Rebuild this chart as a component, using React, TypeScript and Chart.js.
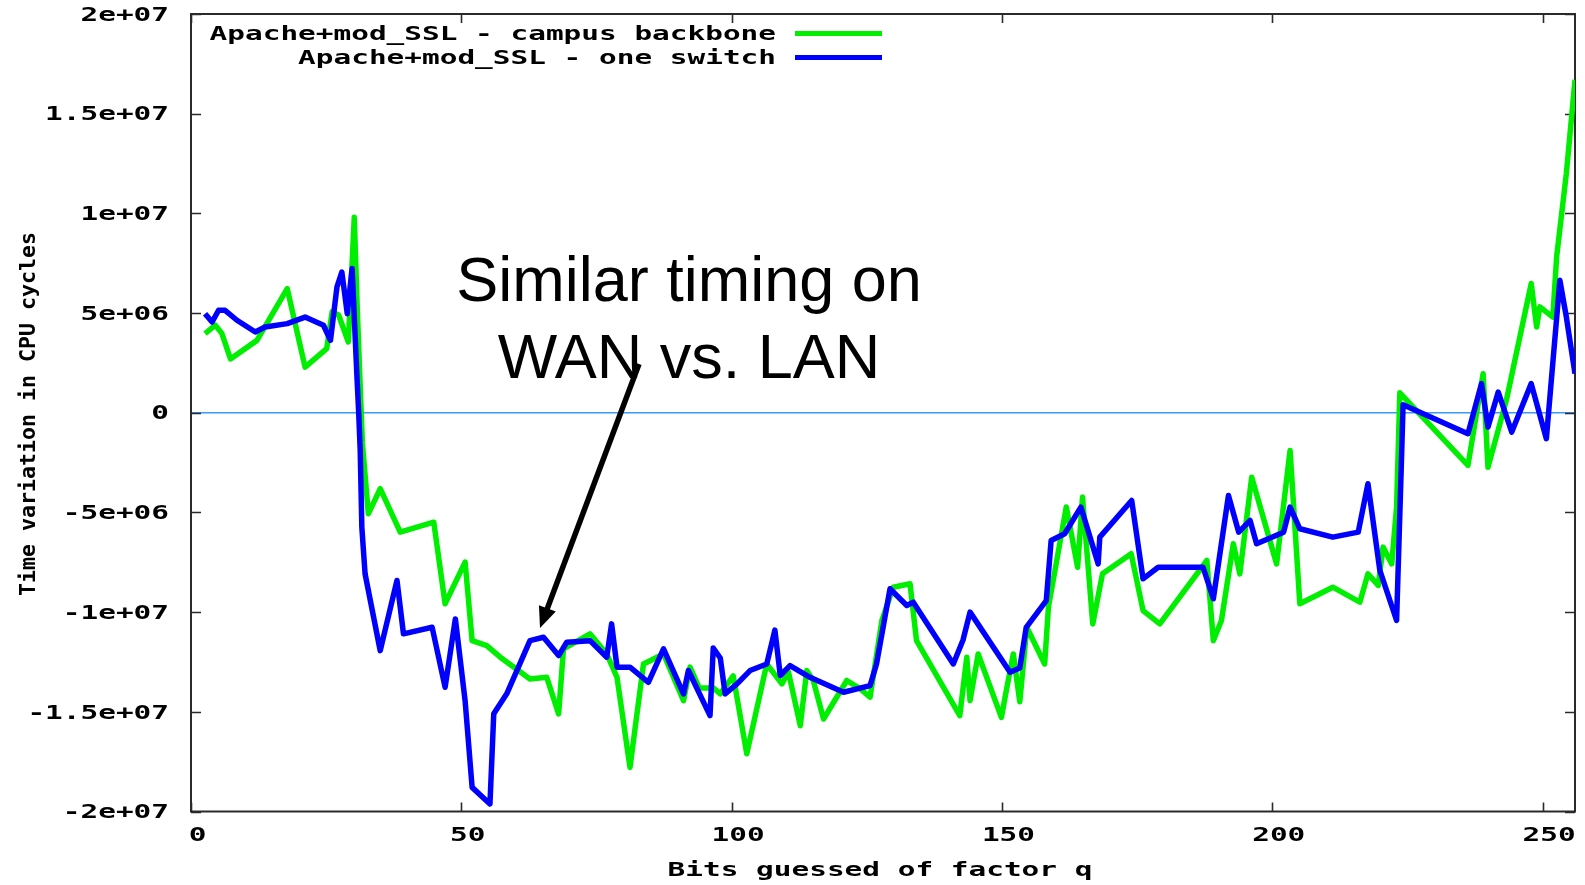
import React, { useEffect, useRef } from 'react';
import { Chart, registerables } from 'chart.js';

Chart.register(...registerables);

// Apache+mod_SSL - campus backbone (green)
const campusBits = [
  2.6, 4.5, 5.7, 7.3, 12.2, 17.8, 21.1, 25.1, 26.1, 27.3, 29.1, 30.2, 30.7, 31.2, 31.7, 32.8,
  35.0, 38.7, 44.9, 47.0, 50.7, 52.0, 54.7, 57.2, 62.7, 65.8, 68.0, 68.9, 73.8, 76.9, 78.8,
  81.2, 83.7, 87.4, 91.1, 92.3, 94.0, 96.6, 97.9, 100.3, 102.8, 104.3, 106.5, 109.3, 110.5,
  112.7, 113.9, 115.1, 117.0, 121.3, 123.8, 125.6, 127.8, 129.9, 133.0, 134.2, 142.2, 143.5,
  144.1, 145.6, 149.9, 150.8, 152.1, 153.3, 154.6, 157.9, 158.6, 161.9, 164.0, 164.9, 166.8,
  168.6, 173.9, 176.1, 179.2, 187.9, 189.1, 190.6, 192.8, 194.0, 196.2, 200.8, 203.3, 205.1,
  211.2, 216.2, 217.7, 219.6, 220.5, 222.1, 223.0, 223.6, 236.2, 239.0, 239.9, 243.3, 247.9,
  248.9, 249.5, 251.9, 252.6, 254.4, 256.0,
];
const campusCycles = [
  3.97e6, 4.39e6, 3.98e6, 2.7e6, 3.63e6, 6.23e6, 2.29e6, 3.22e6, 5.06e6, 4.9e6, 3.55e6, 9.8e6,
  5.6e6, 2.0e6, -1.5e6, -5.07e6, -3.81e6, -5.99e6, -5.49e6, -9.58e6, -7.49e6, -11.43e6,
  -11.68e6, -12.26e6, -13.35e6, -13.27e6, -15.1e6, -11.84e6, -11.09e6, -12.1e6, -13.27e6,
  -17.79e6, -12.6e6, -12.1e6, -14.44e6, -12.76e6, -13.8e6, -13.8e6, -14.1e6, -13.2e6, -17.1e6,
  -15.28e6, -12.6e6, -13.6e6, -13.0e6, -15.7e6, -12.93e6, -13.43e6, -15.36e6, -13.43e6,
  -13.85e6, -14.27e6, -10.42e6, -8.75e6, -8.58e6, -11.43e6, -15.19e6, -12.26e6, -14.44e6,
  -12.1e6, -15.28e6, -13.94e6, -12.1e6, -14.5e6, -10.76e6, -12.6e6, -9.75e6, -4.73e6, -7.75e6,
  -4.23e6, -10.59e6, -8.08e6, -7.07e6, -9.92e6, -10.59e6, -7.41e6, -11.43e6, -10.42e6, -6.57e6,
  -8.08e6, -3.23e6, -7.58e6, -1.89e6, -9.58e6, -8.75e6, -9.5e6, -8.08e6, -8.66e6, -6.74e6,
  -7.58e6, -4.73e6, 1.0e6, -2.64e6, 1.96e6, -2.73e6, 0.62e6, 6.48e6, 4.3e6, 5.31e6, 4.8e6,
  7.82e6, 12.0e6, 16.7e6,
];

// Apache+mod_SSL - one switch (blue)
const switchBits = [
  2.6, 3.9, 5.1, 6.3, 8.5, 11.9, 13.7, 17.8, 21.1, 24.5, 25.8, 27.0, 27.9, 28.9, 29.8, 30.7,
  31.0, 31.3, 31.6, 32.2, 35.0, 38.1, 39.3, 44.6, 47.0, 48.9, 50.7, 52.0, 55.3, 56.0, 58.4,
  62.7, 65.2, 68.0, 69.5, 73.8, 76.9, 77.8, 78.8, 81.2, 84.6, 87.4, 91.1, 92.0, 96.0, 96.6,
  97.9, 98.8, 101.0, 103.4, 106.5, 108.0, 109.0, 110.8, 114.5, 120.7, 125.6, 126.8, 129.3,
  132.4, 133.6, 141.0, 142.8, 144.1, 151.5, 153.3, 154.5, 158.2, 159.1, 161.6, 164.6, 167.8,
  168.1, 174.0, 176.1, 178.9, 187.2, 189.1, 191.9, 193.8, 195.9, 197.1, 202.1, 203.3, 205.1,
  211.2, 215.9, 217.7, 219.9, 223.0, 223.9, 224.2, 236.2, 238.7, 239.9, 241.8, 244.3, 247.9,
  250.7, 253.2, 254.4, 256.0,
];
const switchCycles = [
  4.97e6, 4.55e6, 5.14e6, 5.14e6, 4.64e6, 4.05e6, 4.3e6, 4.47e6, 4.8e6, 4.39e6, 3.63e6, 6.31e6,
  7.06e6, 4.97e6, 7.23e6, 1.79e6, 0.12e6, -1.89e6, -5.74e6, -8.08e6, -11.93e6, -8.41e6,
  -11.09e6, -10.76e6, -13.77e6, -10.34e6, -14.44e6, -18.79e6, -19.62e6, -15.1e6, -14.1e6,
  -11.43e6, -11.26e6, -12.18e6, -11.51e6, -11.43e6, -12.26e6, -10.59e6, -12.76e6, -12.76e6,
  -13.52e6, -11.84e6, -14.1e6, -12.93e6, -15.19e6, -11.8e6, -12.3e6, -14.1e6, -13.6e6,
  -12.93e6, -12.6e6, -10.9e6, -13.18e6, -12.68e6, -13.27e6, -14.02e6, -13.69e6, -12.6e6,
  -8.83e6, -9.67e6, -9.5e6, -12.6e6, -11.4e6, -10.0e6, -13.02e6, -12.8e6, -10.76e6, -9.42e6,
  -6.41e6, -6.07e6, -4.73e6, -7.58e6, -6.24e6, -4.4e6, -8.33e6, -7.75e6, -7.75e6, -9.33e6,
  -4.15e6, -5.99e6, -5.4e6, -6.57e6, -5.99e6, -4.73e6, -5.82e6, -6.24e6, -5.99e6, -3.56e6,
  -7.91e6, -10.42e6, -2.39e6, 0.4e6, -1.05e6, 1.46e6, -0.72e6, 1.04e6, -0.97e6, 1.46e6,
  -1.3e6, 6.65e6, 4.8e6, 1.96e6,
];

const xTickValues = [0, 50, 100, 150, 200, 250];
const xTickLabels = ['0', '50', '100', '150', '200', '250'];
const yTickValues = [2e7, 1.5e7, 1e7, 5e6, 0, -5e6, -1e7, -1.5e7, -2e7];
const yTickLabels = ['2e+07', '1.5e+07', '1e+07', '5e+06', '0', '-5e+06', '-1e+07', '-1.5e+07', '-2e+07'];

const seriesNames = ['Apache+mod_SSL - campus backbone', 'Apache+mod_SSL - one switch'];
const seriesColors = ['#00ee00', '#0000ff'];
const xTitle = 'Bits guessed of factor q';
const yTitle = 'Time variation in CPU cycles';
const noteLines = ['Similar timing on', 'WAN vs. LAN'];

const MONO = '"DejaVu Sans Mono", "Liberation Mono", monospace';
const STRETCH = 1.47;

function stretchedText(
  ctx: CanvasRenderingContext2D,
  text: string,
  x: number,
  y: number,
  align: CanvasTextAlign,
  sx = STRETCH,
) {
  ctx.save();
  ctx.translate(x, y);
  ctx.scale(sx, 1);
  ctx.textAlign = align;
  ctx.fillText(text, 0, 0);
  ctx.restore();
}

const decorPlugin = {
  id: 'decor',
  beforeDatasetsDraw(chart: any) {
    const { ctx, chartArea: a, scales } = chart;
    const xs = scales.x;
    const ys = scales.y;
    ctx.save();
    ctx.strokeStyle = '#2a2a2a';
    ctx.lineWidth = 2;
    ctx.strokeRect(a.left, a.top, a.right - a.left, a.bottom - a.top);
    ctx.lineWidth = 1.6;
    ctx.beginPath();
    xs.ticks.forEach((t: any) => {
      const px = Math.round(xs.getPixelForValue(t.value)) + 0.5;
      ctx.moveTo(px, a.bottom);
      ctx.lineTo(px, a.bottom - 9);
      ctx.moveTo(px, a.top);
      ctx.lineTo(px, a.top + 9);
    });
    ys.ticks.forEach((t: any) => {
      const py = Math.round(ys.getPixelForValue(t.value)) + 0.5;
      ctx.moveTo(a.left, py);
      ctx.lineTo(a.left + 10, py);
      ctx.moveTo(a.right, py);
      ctx.lineTo(a.right - 10, py);
    });
    ctx.stroke();
    ctx.restore();
  },
  afterDraw(chart: any) {
    const { ctx, chartArea: a, scales } = chart;
    const xs = scales.x;
    const ys = scales.y;
    ctx.save();
    ctx.fillStyle = '#000';
    ctx.font = `bold 20px ${MONO}`;
    ctx.textBaseline = 'middle';
    ys.ticks.forEach((t: any) => {
      const i = yTickValues.indexOf(t.value);
      if (i < 0) return;
      stretchedText(ctx, yTickLabels[i], a.left - 22, ys.getPixelForValue(t.value) + 1.5, 'right');
    });
    xs.ticks.forEach((t: any) => {
      const i = xTickValues.indexOf(t.value);
      if (i < 0) return;
      stretchedText(ctx, xTickLabels[i], xs.getPixelForValue(t.value) + 6.5, 836, 'center');
    });
    stretchedText(ctx, xTitle, 880, 871, 'center');
    ctx.save();
    ctx.translate(29, 414);
    ctx.rotate(-Math.PI / 2);
    ctx.font = `bold 21.6px ${MONO}`;
    ctx.textAlign = 'center';
    ctx.fillText(yTitle, 0, 0);
    ctx.restore();
    ctx.font = `bold 20px ${MONO}`;
    const legendY = [33.5, 57.6];
    seriesNames.forEach((name, i) => {
      stretchedText(ctx, name, 776, legendY[i] + 1, 'right');
      ctx.strokeStyle = seriesColors[i];
      ctx.lineWidth = 5;
      ctx.beginPath();
      ctx.moveTo(795, legendY[i]);
      ctx.lineTo(882, legendY[i]);
      ctx.stroke();
    });
    ctx.font = '63px "Liberation Sans", Arial, sans-serif';
    ctx.textAlign = 'center';
    ctx.textBaseline = 'alphabetic';
    ctx.fillText(noteLines[0], 689, 301);
    ctx.fillText(noteLines[1], 689, 378);
    const sx = 639, sy = 364, tx = 540, ty = 628;
    const ang = Math.atan2(ty - sy, tx - sx);
    const headLen = 21, headHalf = 9;
    const bx = tx - headLen * Math.cos(ang);
    const by = ty - headLen * Math.sin(ang);
    ctx.strokeStyle = '#000';
    ctx.lineWidth = 5.5;
    ctx.lineCap = 'butt';
    ctx.beginPath();
    ctx.moveTo(sx, sy);
    ctx.lineTo(bx + 2 * Math.cos(ang), by + 2 * Math.sin(ang));
    ctx.stroke();
    ctx.beginPath();
    ctx.moveTo(tx, ty);
    ctx.lineTo(bx + headHalf * Math.sin(ang), by - headHalf * Math.cos(ang));
    ctx.lineTo(bx - headHalf * Math.sin(ang), by + headHalf * Math.cos(ang));
    ctx.closePath();
    ctx.fill();
    ctx.restore();
  },
};

export default function App() {
  const canvasRef = useRef<HTMLCanvasElement | null>(null);

  useEffect(() => {
    document.body.style.margin = '0';
    const canvas = canvasRef.current;
    if (!canvas) return;
    const campus = campusBits.map((b, i) => ({ x: b, y: campusCycles[i] }));
    const sw = switchBits.map((b, i) => ({ x: b, y: switchCycles[i] }));
    const chart = new Chart(canvas, {
      type: 'line',
      data: {
        datasets: [
          {
            label: seriesNames[0],
            data: campus,
            borderColor: seriesColors[0],
            backgroundColor: seriesColors[0],
            borderWidth: 5.5,
            pointRadius: 0,
            tension: 0,
            order: 1,
            borderJoinStyle: 'round',
          },
          {
            label: seriesNames[1],
            data: sw,
            borderColor: seriesColors[1],
            backgroundColor: seriesColors[1],
            borderWidth: 5.5,
            pointRadius: 0,
            tension: 0,
            order: 0,
            borderJoinStyle: 'round',
          },
        ],
      },
      options: {
        responsive: false,
        animation: false,
        devicePixelRatio: 1,
        layout: { padding: { left: 191, top: 14, right: 10, bottom: 73.5 } },
        plugins: { legend: { display: false }, tooltip: { enabled: false } },
        scales: {
          x: {
            type: 'linear',
            min: 0,
            max: 256,
            ticks: { display: false, stepSize: 50, includeBounds: false },
            grid: { display: false, drawTicks: false },
            border: { display: false },
          },
          y: {
            type: 'linear',
            min: -2e7,
            max: 2e7,
            ticks: { display: false, stepSize: 5e6, includeBounds: false },
            grid: {
              drawTicks: false,
              color: (c: any) => (c.tick && c.tick.value === 0 ? '#3a98ff' : 'rgba(0,0,0,0)'),
              lineWidth: 1.6,
            },
            border: { display: false },
          },
        },
      },
      plugins: [decorPlugin],
    });
    return () => chart.destroy();
  }, []);

  return (
    <div style={{ width: 1585, height: 885, background: '#fff' }}>
      <canvas ref={canvasRef} width={1585} height={885} style={{ display: 'block' }} />
    </div>
  );
}
